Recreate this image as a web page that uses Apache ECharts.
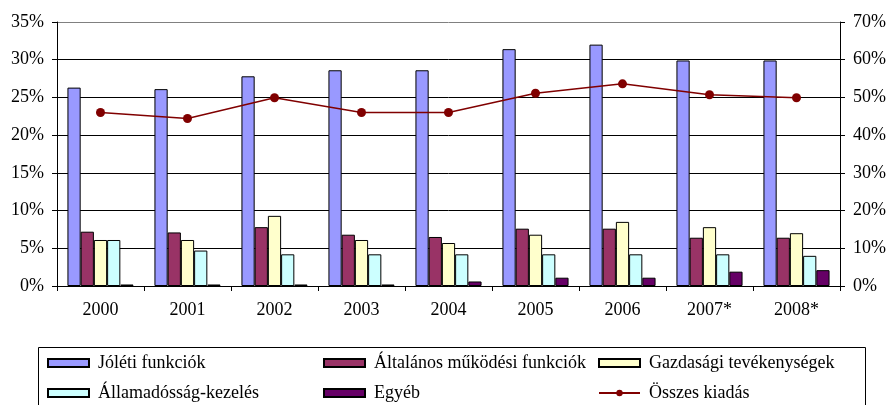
<!DOCTYPE html>
<html>
<head>
<meta charset="utf-8">
<script src="https://cdn.jsdelivr.net/npm/echarts@6/dist/echarts.min.js"></script>
<style>
  html, body { margin: 0; padding: 0; background: #fff; }
  #main { width: 889px; height: 405px; }
</style>
</head>
<body>
<div id="main"></div>
<script>
// adatok (százalék)
var years = ['2000', '2001', '2002', '2003', '2004', '2005', '2006', '2007*', '2008*']
var joleti = [26.3, 26.1, 27.8, 28.6, 28.6, 31.4, 32.0, 29.9, 29.9]
var altalanos = [7.2, 7.1, 7.8, 6.8, 6.5, 7.6, 7.6, 6.4, 6.4]
var gazdasagi = [6.1, 6.1, 9.3, 6.1, 5.7, 6.8, 8.5, 7.8, 7.0]
var allamadossag = [6.1, 4.7, 4.2, 4.2, 4.2, 4.2, 4.2, 4.2, 4.0]
var egyeb = [0.2, 0.2, 0.2, 0.2, 0.6, 1.1, 1.1, 1.9, 2.1]
var osszes = [46.0, 44.4, 49.9, 46.0, 46.0, 51.1, 53.6, 50.7, 49.9]

var font = 'Liberation Serif'
var myChart = echarts.init(document.getElementById('main'))

function bar(name, data, color) {
  return {
    name: name,
    type: 'bar',
    data: data,
    barGap: '0%',
    barCategoryGap: '24%',
    itemStyle: { color: color, borderColor: '#000', borderWidth: 1 }
  }
}

// egy jelmagyarázat-elem, külön pozícióval
function leg(name, left, top) {
  return {
    data: [name],
    left: left,
    top: top,
    padding: 0,
    itemWidth: 41,
    itemHeight: 8,
    icon: name === 'Összes kiadás' ? null : 'rect',
    textStyle: { fontFamily: font, fontSize: 18, color: '#000', padding: [0, 0, 0, 4] }
  }
}

var option = {
  animation: false,
  textStyle: { fontFamily: font },
  grid: { left: 57, right: 49, top: 22, bottom: 119 },
  graphic: [
    {
      type: 'rect',
      shape: { x: 38.5, y: 347.5, width: 827, height: 80 },
      style: { fill: 'none', stroke: '#000', lineWidth: 1 }
    }
  ],
  legend: [
    leg('Jóléti funkciók', 47, 354),
    leg('Általános működési funkciók', 323, 354),
    leg('Gazdasági tevékenységek', 598, 354),
    leg('Államadósság-kezelés', 47, 384),
    leg('Egyéb', 323, 384),
    leg('Összes kiadás', 598, 384)
  ],
  xAxis: {
    type: 'category',
    data: years,
    axisLine: { lineStyle: { color: '#000', width: 1 } },
    axisTick: { show: true, length: 5, lineStyle: { color: '#000' } },
    axisLabel: { color: '#000', fontSize: 18, fontFamily: font, margin: 15 }
  },
  yAxis: [
    {
      type: 'value',
      min: 0,
      max: 35,
      interval: 5,
      axisLine: { show: true, lineStyle: { color: '#000' } },
      axisTick: { show: true, length: 5, lineStyle: { color: '#000' } },
      axisLabel: { formatter: '{value}%', color: '#000', fontSize: 18, fontFamily: font, margin: 13 },
      // a legfelső rácsvonal szürke
      splitLine: { lineStyle: { color: ['#000', '#000', '#000', '#000', '#000', '#000', '#000', '#808080'], width: 1 } }
    },
    {
      type: 'value',
      min: 0,
      max: 70,
      interval: 10,
      axisLine: { show: true, lineStyle: { color: '#000' } },
      axisTick: { show: true, length: 5, lineStyle: { color: '#000' } },
      axisLabel: { formatter: '{value}%', color: '#000', fontSize: 18, fontFamily: font, margin: 13 },
      splitLine: { show: false }
    }
  ],
  series: [
    bar('Jóléti funkciók', joleti, '#9999ff'),
    bar('Általános működési funkciók', altalanos, '#993366'),
    bar('Gazdasági tevékenységek', gazdasagi, '#ffffcc'),
    bar('Államadósság-kezelés', allamadossag, '#ccffff'),
    bar('Egyéb', egyeb, '#660066'),
    {
      name: 'Összes kiadás',
      type: 'line',
      yAxisIndex: 1,
      data: osszes,
      symbol: 'circle',
      symbolSize: 9,
      lineStyle: { color: '#800000', width: 1.5 },
      itemStyle: { color: '#800000' },
      z: 10
    }
  ]
}

myChart.setOption(option)
</script>
</body>
</html>
